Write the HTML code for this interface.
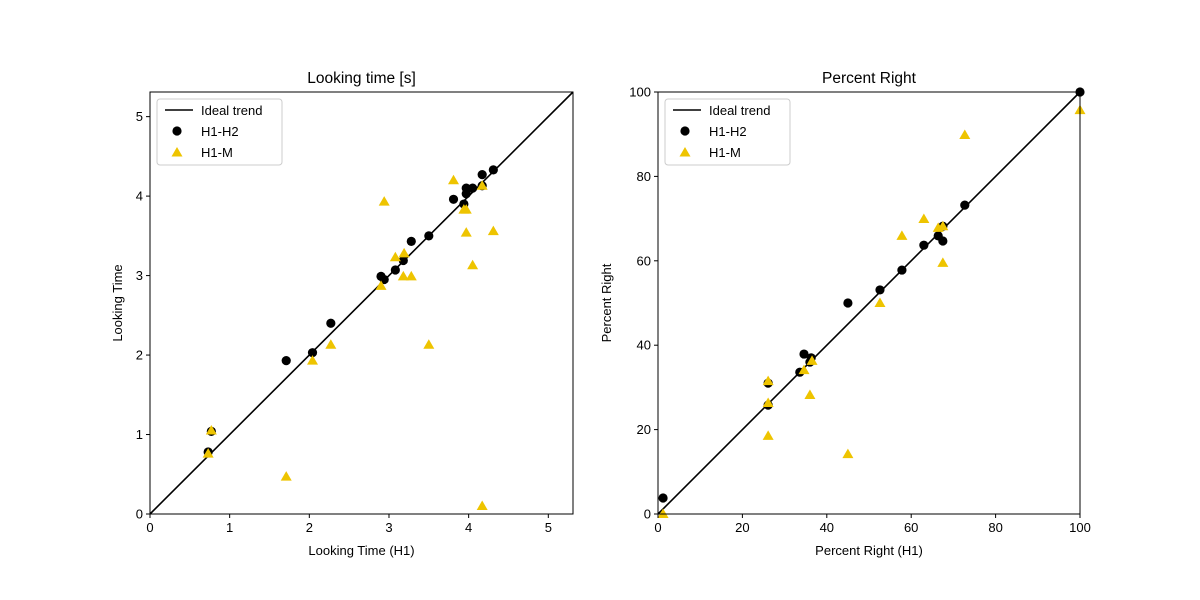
<!DOCTYPE html>
<html><head><meta charset="utf-8"><style>
body{margin:0;background:#fff}
svg{display:block;font-family:"Liberation Sans","DejaVu Sans",sans-serif}
</style></head><body>
<svg id="chart" width="1200" height="600"></svg>
<script>
const leftH1 = [0.73,0.77,1.71,2.04,2.27,2.90,2.94,3.08,3.18,3.28,3.50,3.81,3.94,3.97,3.97,4.05,4.17,4.17,4.31];
const leftH2 = [0.78,1.04,1.93,2.03,2.40,2.99,2.95,3.07,3.19,3.43,3.50,3.96,3.90,4.03,4.10,4.10,4.27,4.13,4.33];
const leftMx = [0.73,0.77,1.71,2.04,2.27,2.90,2.94,3.08,3.18,3.19,3.28,3.50,3.81,3.94,3.97,3.97,4.05,4.17,4.17,4.31];
const leftMy = [0.76,1.05,0.47,1.93,2.13,2.87,3.93,3.23,2.99,3.28,2.99,2.13,4.20,3.83,3.83,3.54,3.13,4.13,0.10,3.56];
const rightH1 = [1.2,26.1,26.1,34.6,33.6,36.3,36.0,45.0,52.6,57.8,63.0,66.4,67.5,67.5,72.7,100];
const rightH2 = [3.8,31.0,25.8,37.9,33.6,37.0,36.0,50.0,53.1,57.8,63.7,65.9,64.7,68.2,73.2,100];
const rightMx = [1.2,26.1,26.1,26.1,34.6,36.0,36.5,45.0,52.6,57.8,63.0,66.4,67.5,67.5,72.7,100];
const rightMy = [0,31.5,26.3,18.5,34.1,28.2,36.3,14.2,50.0,65.9,69.9,67.8,59.5,68.2,89.8,95.7];
const leftTicks = [0,1,2,3,4,5];
const rightTicks = [0,20,40,60,80,100];

const svg=document.getElementById('chart');
const NS='http://www.w3.org/2000/svg';
function mk(tag,attrs,parent){const e=document.createElementNS(NS,tag);for(const k in attrs)e.setAttribute(k,attrs[k]);(parent||svg).appendChild(e);return e;}
const GOLD='#eec400';

function panel(cfg){
  const g=mk('g',{});
  
  
  const sx=v=>cfg.x0+(v-cfg.min)/(cfg.max-cfg.min)*(cfg.x1-cfg.x0);
  const sy=v=>cfg.y0-(v-cfg.min)/(cfg.max-cfg.min)*(cfg.y0-cfg.y1);
  // ideal line
  const ln=mk('line',{x1:sx(cfg.min),y1:sy(cfg.min),x2:sx(cfg.max),y2:sy(cfg.max),stroke:'#000','stroke-width':1.6},g);
  
  
  cfg.hx.forEach((v,i)=>{
    const c=mk('circle',{cx:sx(v),cy:sy(cfg.hy[i]),r:4.6,fill:'#000'},g);
    
    
  });
  cfg.mx.forEach((v,i)=>{
    const x=sx(v),y=sy(cfg.my[i]);
    const p=mk('polygon',{points:`${x},${y-5.5} ${x-5.5},${y+4} ${x+5.5},${y+4}`,fill:GOLD},g);
    
    
  });
  // frame
  const fr=mk('rect',{x:cfg.x0,y:cfg.y1,width:cfg.x1-cfg.x0,height:cfg.y0-cfg.y1,fill:'none',stroke:'#000','stroke-width':1},g);
  
  
  cfg.ticks.forEach(t=>{
    const x=sx(t),y=sy(t);
    mk('line',{x1:x,y1:cfg.y0,x2:x,y2:cfg.y0+4,stroke:'#000'},g);
    const tx=mk('text',{x:x,y:cfg.y0+18,'font-size':13,'text-anchor':'middle'},g);tx.textContent=t;
    
    
    mk('line',{x1:cfg.x0-4,y1:y,x2:cfg.x0,y2:y,stroke:'#000'},g);
    const ty=mk('text',{x:cfg.x0-7,y:y+4.5,'font-size':13,'text-anchor':'end'},g);ty.textContent=t;
    
    
  });
  const title=mk('text',{x:(cfg.x0+cfg.x1)/2,y:cfg.y1-9,'font-size':15.5,'text-anchor':'middle'},g);title.textContent=cfg.title;
  
  
  const xl=mk('text',{x:(cfg.x0+cfg.x1)/2,y:555,'font-size':13,'text-anchor':'middle'},g);xl.textContent=cfg.xlabel;
  
  
  const yc=(cfg.y0+cfg.y1)/2;
  const yl=mk('text',{x:cfg.ylx,y:yc,'font-size':13,'text-anchor':'middle',transform:`rotate(-90 ${cfg.ylx} ${yc})`},g);yl.textContent=cfg.ylabel;
  
  
  // legend
  const lg=mk('g',{},g);
  
  
  const lx=cfg.x0+7, ly=cfg.y1+7;
  mk('rect',{x:lx,y:ly,width:125,height:66,rx:3,fill:'#fff',stroke:'#ccc'},lg);
  mk('line',{x1:lx+8,y1:ly+11,x2:lx+36,y2:ly+11,stroke:'#000','stroke-width':1.6},lg);
  mk('circle',{cx:lx+20,cy:ly+32,r:4.6,fill:'#000'},lg);
  mk('polygon',{points:`${lx+20},${ly+48} ${lx+14.5},${ly+57.5} ${lx+25.5},${ly+57.5}`,fill:GOLD},lg);
  [['Ideal trend',16],['H1-H2',37],['H1-M',58]].forEach(([s,dy])=>{
    const t=mk('text',{x:lx+44,y:ly+dy,'font-size':13},lg);t.textContent=s;
    
    
  });
}
panel({name:'looking-time-panel',x0:150,x1:573,y0:514,y1:92,min:0,max:5.31,ticks:leftTicks,hx:leftH1,hy:leftH2,mx:leftMx,my:leftMy,title:'Looking time [s]',xlabel:'Looking Time (H1)',ylabel:'Looking Time',ylx:122});
panel({name:'percent-right-panel',x0:658,x1:1080,y0:514,y1:92,min:0,max:100,ticks:rightTicks,hx:rightH1,hy:rightH2,mx:rightMx,my:rightMy,title:'Percent Right',xlabel:'Percent Right (H1)',ylabel:'Percent Right',ylx:611});
</script>
</body></html>
